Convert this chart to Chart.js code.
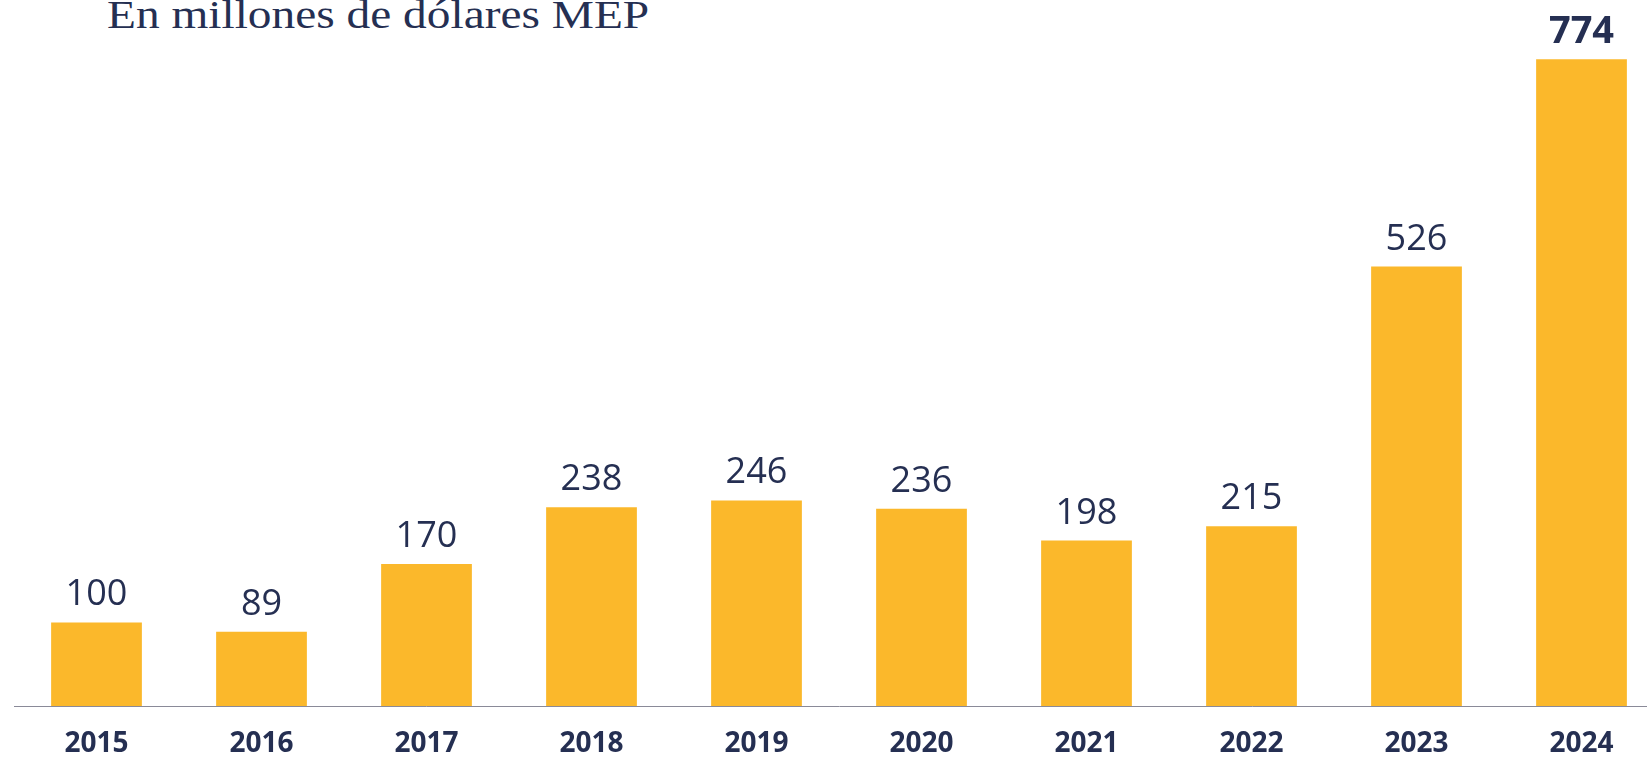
<!DOCTYPE html>
<html>
<head>
<meta charset="utf-8">
<script src="https://cdn.jsdelivr.net/npm/chart.js@4/dist/chart.umd.min.js"></script>
<style>
  html, body { margin: 0; padding: 0; background: #ffffff; overflow: hidden; width: 1647px; height: 761px; }
  #title {
    position: absolute; left: 107px; top: -5px;
    font-family: "Liberation Serif", serif; font-size: 39px; line-height: 39px;
    color: #252f52; white-space: nowrap;
    transform: scaleX(1.215); transform-origin: left top;
  }
  #wrap { position: absolute; left: 0; top: 0; width: 1664px; height: 761px; }
</style>
</head>
<body>
<div id="title">En millones de dólares MEP</div>
<div id="wrap"><canvas id="c"></canvas></div>
<script>
const categories = ["2015", "2016", "2017", "2018", "2019", "2020", "2021", "2022", "2023", "2024"];
const values = [100, 89, 170, 238, 246, 236, 198, 215, 526, 774];
const highlightIndex = 9;

const navy = '#252f52';
const barColor = '#FBB82B';

const valueLabels = {
  id: 'valueLabels',
  afterDatasetsDraw(chart) {
    const ctx = chart.ctx;
    const meta = chart.getDatasetMeta(0);
    ctx.save();
    ctx.textAlign = 'center';
    ctx.textBaseline = 'alphabetic';
    ctx.fillStyle = navy;
    meta.data.forEach((bar, i) => {
      const bold = i === highlightIndex;
      ctx.font = (bold ? 'bold 38px' : '36px') + ' "Open Sans", sans-serif';
      ctx.fillText(String(values[i]), bar.x, bar.y - (bold ? 16 : 17));
    });
    ctx.restore();
  }
};

new Chart(document.getElementById('c'), {
  type: 'bar',
  data: {
    labels: categories,
    datasets: [{
      data: values,
      backgroundColor: barColor,
      borderWidth: 0,
      barPercentage: 0.55,
      categoryPercentage: 1.0
    }]
  },
  options: {
    responsive: true,
    maintainAspectRatio: false,
    animation: false,
    layout: { padding: { left: 14, right: 0, top: 0, bottom: 0 } },
    plugins: {
      legend: { display: false },
      tooltip: { enabled: false },
      title: { display: false }
    },
    scales: {
      x: {
        afterFit(scale) { scale.height = 55; },
        grid: { display: false, drawTicks: false },
        border: { display: true, color: '#8a8a98', width: 1 },
        ticks: {
          color: navy,
          padding: 21,
          font: { family: '"Open Sans", sans-serif', size: 28, weight: 'bold', lineHeight: 1.2 }
        }
      },
      y: {
        display: false,
        min: 0,
        max: 845
      }
    }
  },
  plugins: [valueLabels]
});
</script>
</body>
</html>
